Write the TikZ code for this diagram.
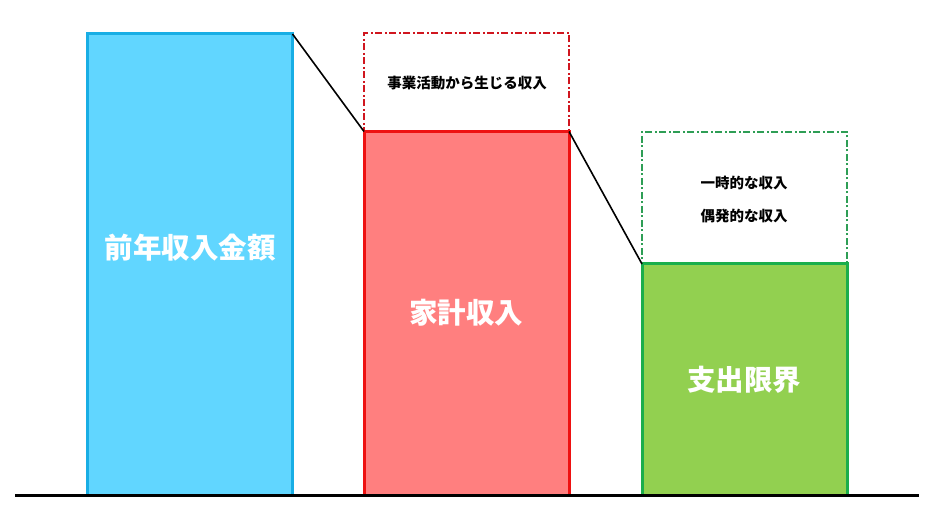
\documentclass[tikz,border=0pt]{standalone}
\usepackage{fontspec}
\newfontfamily\jp{Noto Sans CJK JP}
\definecolor{bluefill}{HTML}{61D6FF}
\definecolor{blueline}{HTML}{18AEE5}
\definecolor{redfill}{HTML}{FF7F7F}
\definecolor{redline}{HTML}{EE1111}
\definecolor{reddash}{HTML}{D0161F}
\definecolor{greenfill}{HTML}{92D050}
\definecolor{greenline}{HTML}{1AAE4C}
\definecolor{greendash}{HTML}{2E9E55}
\begin{document}
\begin{tikzpicture}[x=1pt,y=-1pt,
  bar/.style={draw,line width=3pt,inner sep=0pt,outer sep=0pt,anchor=south west,minimum width=205pt},
  ghost/.style={draw,line width=2pt,inner sep=0pt,outer sep=0pt,anchor=south west,minimum width=205pt,
    dash pattern=on 7pt off 2.5pt on 2pt off 2.5pt},
  big/.style={text=white,font=\jp\bfseries\fontsize{28.5}{32}\selectfont},
  small/.style={text=black,font=\jp\bfseries\fontsize{14.5}{17}\selectfont},
  link/.style={line width=1.6pt,black}]
\useasboundingbox (0,0) rectangle (932,529);
\node[ghost,draw=reddash,minimum height=98pt] (redg) at (364,131.5) {};
\node[ghost,draw=greendash,minimum height=132pt] (greeng) at (642,264) {};
\node[bar,draw=blueline,fill=bluefill,minimum height=461pt] (blue) at (87.5,495) {};
\node[bar,draw=redline,fill=redfill,minimum height=363.5pt] (red) at (364,495) {};
\node[bar,draw=greenline,fill=greenfill,minimum height=231pt] (green) at (642,495) {};
\node[big] (bluet) at (190,248) {前年収入金額};
\node[big] (redt) at (466,313) {家計収入};
\node[big] (greent) at (744,380) {支出限界};
\node[small] (redgt) at (467,83) {事業活動から生じる収入};
\node[small] (greengt1) at (744,183) {一時的な収入};
\node[small] (greengt2) at (744,216) {偶発的な収入};
\draw[link] (blue.north east) -- (red.north west);
\draw[link] (red.north east) -- (green.north west);
\coordinate (bl) at (15,495);
\coordinate (br) at (919,495);
\draw[line width=3pt] (bl) -- (br);
\end{tikzpicture}
\end{document}
